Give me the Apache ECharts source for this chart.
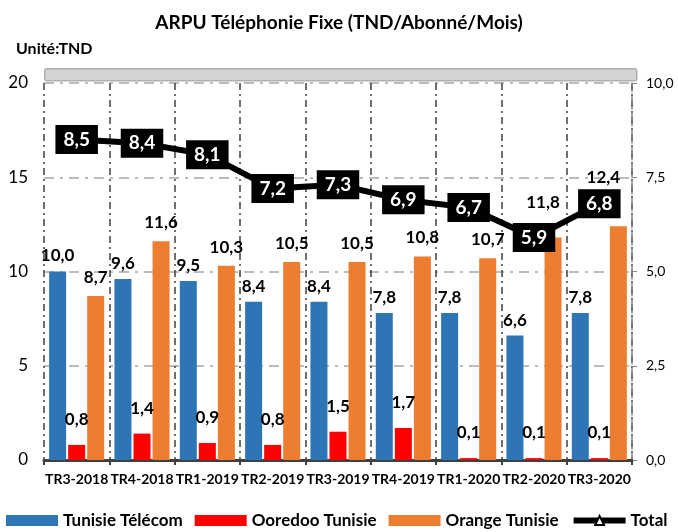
<!DOCTYPE html>
<html><head><meta charset="utf-8">
<script src="https://cdn.jsdelivr.net/npm/echarts@6/dist/echarts.min.js"></script>
<style>html,body{margin:0;padding:0;background:#fff}#c{width:678px;height:532px}</style>
</head><body><div id="c"></div>
<script>
const categories = ['TR3-2018','TR4-2018','TR1-2019','TR2-2019','TR3-2019','TR4-2019','TR1-2020','TR2-2020','TR3-2020'];
const tunisieTelecom = [10.0, 9.6, 9.5, 8.4, 8.4, 7.8, 7.8, 6.6, 7.8];
const ooredoo = [0.8, 1.4, 0.9, 0.8, 1.5, 1.7, 0.1, 0.1, 0.1];
const orange = [8.7, 11.6, 10.3, 10.5, 10.5, 10.8, 10.7, 11.8, 12.4];
const total = [8.5, 8.4, 8.1, 7.2, 7.3, 6.9, 6.7, 5.9, 6.8];

const F = 'Lato, "Open Sans", sans-serif';
const fmt = v => v.toFixed(1).replace('.', ',');
const barLabel = d => ({show:true, position:'top', distance:d, color:'#000', fontWeight:'bold', fontSize:17, fontFamily:F, formatter:p=>fmt(p.value)});

// label placement tweaks for two orange bars (moved above the line labels, as in the source)
const orangeData = orange.map((v, i) => {
  if (i === 7) return {value:v, label:{offset:[-10,-17]}};
  if (i === 8) return {value:v, label:{offset:[-15,-30]}};
  return v;
});

const chart = echarts.init(document.getElementById('c'));
chart.setOption({
  animation:false,
  title:[
    {text:'ARPU Téléphonie Fixe (TND/Abonné/Mois)', left:'center', top:8, textStyle:{fontFamily:F, fontWeight:'bold', fontSize:19, color:'#000'}},
    {text:'Unité:TND', left:11, top:36, textStyle:{fontFamily:F, fontWeight:'bold', fontSize:16, color:'#000'}}
  ],
  graphic:[{type:'rect', left:44, top:68, shape:{width:592, height:12, r:2}, style:{fill:'#d4d4d4', stroke:'#b0b0b0', lineWidth:1.5}, z:-1}],
  legend:{top:512, left:6, width:760, itemGap:12, itemWidth:52, itemHeight:11, padding:0,
    textStyle:{fontFamily:F, fontWeight:'bold', fontSize:17, color:'#000'},
    data:[{name:'Tunisie Télécom', icon:'rect'},{name:'Ooredoo Tunisie', icon:'rect'},{name:'Orange Tunisie', icon:'rect'},
      {name:'Total', lineStyle:{width:6, color:'#000'}, itemStyle:{color:'#fff', borderColor:'#000', borderWidth:2}}]},
  grid:{left:44, right:46, top:83, bottom:72},
  xAxis:{type:'category', data:categories,
    axisLine:{lineStyle:{color:'#404040', width:3}},
    axisTick:{show:true, length:5, lineStyle:{color:'#404040', width:2}},
    axisLabel:{fontFamily:F, fontWeight:'bold', fontSize:14, color:'#000', margin:12, interval:0},
    splitLine:{show:true, lineStyle:{color:'#404040', width:1.5, type:[7,4,2,4]}}},
  yAxis:[
    {type:'value', min:0, max:20, interval:5,
      axisLine:{show:false}, axisTick:{show:false},
      axisLabel:{fontFamily:F, fontSize:17, color:'#000', margin:16},
      splitLine:{show:true, lineStyle:{color:'#bdbdbd', width:2, type:[10,6,3,6]}}},
    {type:'value', min:0, max:10, interval:2.5,
      axisLine:{show:true, lineStyle:{color:'#888', width:1.5, type:[7,4,2,4]}},
      axisTick:{show:true, length:5, lineStyle:{color:'#888'}},
      axisLabel:{fontFamily:F, fontSize:14, color:'#000', margin:14, formatter:fmt},
      splitLine:{show:false}}
  ],
  series:[
    {name:'Tunisie Télécom', type:'bar', data:tunisieTelecom, barWidth:17, barGap:'12%', itemStyle:{color:'#2e75b6'}, label:barLabel(7)},
    {name:'Ooredoo Tunisie', type:'bar', data:ooredoo, barWidth:17, barGap:'12%', itemStyle:{color:'#ff0000'}, label:barLabel(17)},
    {name:'Orange Tunisie', type:'bar', data:orangeData, barWidth:17, barGap:'12%', itemStyle:{color:'#ed7d31'}, label:barLabel(10)},
    {name:'Total', type:'line', yAxisIndex:1, data:total, z:10,
      lineStyle:{color:'#000', width:6}, symbol:'triangle', symbolSize:10,
      itemStyle:{color:'#fff', borderColor:'#000', borderWidth:2},
      label:{show:true, position:'inside', backgroundColor:'#000', color:'#fff', fontFamily:F, fontWeight:'bold', fontSize:19, padding:[5,8,5,8], formatter:p=>fmt(p.value)}}
  ]
});
</script></body></html>
